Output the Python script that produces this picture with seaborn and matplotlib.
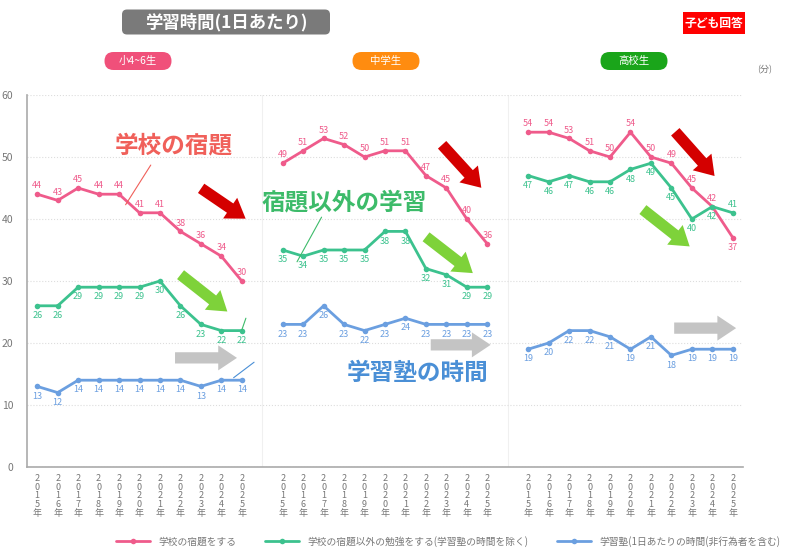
import numpy as np
import pandas as pd
import matplotlib
matplotlib.use('Agg')
import matplotlib.pyplot as plt
from matplotlib.patches import FancyBboxPatch
import seaborn as sns

# school levels and survey years
groups = ['小4~6生', '中学生', '高校生']
years = [2015, 2016, 2017, 2018, 2019, 2020, 2021, 2022, 2023, 2024, 2025]
series = ['学校の宿題をする',
          '学校の宿題以外の勉強をする(学習塾の時間を除く)',
          '学習塾(1日あたりの時間(非行為者を含む)']

# minutes per day, one list per group and series
homework_elem = [44, 43, 45, 44, 44, 41, 41, 38, 36, 34, 30]
homework_mid = [49, 51, 53, 52, 50, 51, 51, 47, 45, 40, 36]
homework_high = [54, 54, 53, 51, 50, 54, 50, 49, 45, 42, 37]
other_elem = [26, 26, 29, 29, 29, 29, 30, 26, 23, 22, 22]
other_mid = [35, 34, 35, 35, 35, 38, 38, 32, 31, 29, 29]
other_high = [47, 46, 47, 46, 46, 48, 49, 45, 40, 42, 41]
juku_elem = [13, 12, 14, 14, 14, 14, 14, 14, 13, 14, 14]
juku_mid = [23, 23, 26, 23, 22, 23, 24, 23, 23, 23, 23]
juku_high = [19, 20, 22, 22, 21, 19, 21, 18, 19, 19, 19]

values = {
    series[0]: [homework_elem, homework_mid, homework_high],
    series[1]: [other_elem, other_mid, other_high],
    series[2]: [juku_elem, juku_mid, juku_high],
}

PINK, GREEN, BLUE = '#ef5b8b', '#3cc28e', '#6b9fe0'
palette = dict(zip(series, [PINK, GREEN, BLUE]))

rows = []
for s in series:
    for g, grp in enumerate(groups):
        for i, y in enumerate(years):
            rows.append({'series': s, 'group': grp, 'year': y,
                         'x': g * (len(years) + 1) + i,
                         'value': values[s][g][i]})
df = pd.DataFrame(rows)

sns.set_theme(style='white')
plt.rcParams['font.family'] = ['Noto Sans CJK JP', 'DejaVu Sans']

fig = plt.figure(figsize=(8, 5.59), dpi=100)
ax = fig.add_axes([27 / 800, 1 - 467 / 559, 716 / 800, 372 / 559])

sns.lineplot(data=df, x='x', y='value', hue='series', hue_order=series,
             units='group', estimator=None, palette=palette, marker='o',
             markersize=4, markeredgewidth=0, linewidth=2, ax=ax)

handles, labels = ax.get_legend_handles_labels()
ax.get_legend().remove()
fig.legend(handles, labels, loc='center', bbox_to_anchor=(0.56, 0.032),
           ncol=3, frameon=False, fontsize=7, labelcolor='#777777',
           handlelength=3.5, columnspacing=3)

# value labels
for _, r in df.iterrows():
    last = r['year'] == years[-1] and r['group'] == groups[2]
    above = r['series'] == series[0]
    if last and r['series'] in series[:2]:
        above = not above
    ax.annotate(str(r['value']), (r['x'], r['value']),
                xytext=(0, 6 if above else -7), textcoords='offset points',
                ha='center', va='center', fontsize=6.5,
                color=palette[r['series']])

ax.set_xlim(-0.5, 34.5)
ax.set_ylim(0, 60)
ax.set_yticks(range(0, 61, 10))
ax.set_xticks(df['x'].unique())
ax.set_xticklabels(['\n'.join(str(y)) + '\n年' for _ in groups for y in years],
                   fontsize=6.5, linespacing=0.95, color='#777777')
ax.tick_params(axis='x', length=3, color='#aaaaaa', pad=2)
ax.tick_params(axis='y', length=0, labelsize=7.5, labelcolor='#777777', pad=10)
ax.set_xlabel('')
ax.set_ylabel('')
ax.grid(axis='y', color='#dddddd', linestyle=':', linewidth=0.8)
for sx in [11, 23]:
    ax.axvline(sx, color='#f0f0f0', linewidth=0.8, zorder=0)
for side in ['top', 'right']:
    ax.spines[side].set_visible(False)
for side in ['left', 'bottom']:
    ax.spines[side].set_color('#aaaaaa')
    ax.spines[side].set_linewidth(1.2)

# trend arrows
arrow_kw = 'simple,head_length=0.75,head_width=1.0,tail_width=0.45'
arrows = [
    ((7.9, 45.2), (10.3, 39.8), '#d40000'),
    ((19.7, 52.3), (21.8, 44.7), '#d40000'),
    ((31.1, 54.4), (33.2, 46.6), '#d40000'),
    ((6.9, 31.3), (9.4, 24.8), '#7ed23a'),
    ((18.9, 37.4), (21.4, 31.0), '#7ed23a'),
    ((29.5, 41.8), (32.0, 35.3), '#7ed23a'),
    ((6.6, 17.6), (9.9, 17.6), '#c4c4c4'),
    ((19.1, 19.7), (22.3, 19.7), '#c4c4c4'),
    ((31.0, 22.4), (34.3, 22.4), '#c4c4c4'),
]
for start, end, c in arrows:
    ax.annotate('', xy=end, xytext=start,
                arrowprops=dict(arrowstyle=arrow_kw, mutation_scale=18,
                                color=c, lw=0))

# callout labels
ax.text(6.7, 51.8, '学校の宿題', fontsize=17, color='#f0605a',
        ha='center', va='center', fontweight='bold')
ax.plot([5.55, 4.32], [48.7, 42.3], color='#f0605a', lw=0.8)
ax.text(15.0, 42.6, '宿題以外の学習', fontsize=17, color='#3dbb6a',
        ha='center', va='center', fontweight='bold')
ax.plot([13.9, 12.7], [40.3, 33.1], color='#3dbb6a', lw=0.8)
ax.plot([10.0, 10.2], [22.1, 24.0], color='#3dbb6a', lw=0.8)
ax.text(18.6, 15.2, '学習塾の時間', fontsize=17, color='#4a8fd6',
        ha='center', va='center', fontweight='bold')
ax.plot([9.6, 10.6], [14.4, 16.9], color='#4a8fd6', lw=0.8)


# header boxes, placed in inches from the top-left corner
def header_box(cx, cy, w, h, text, fc, size, rounding, weight='normal'):
    x0, y0 = (cx - w / 2) / 100, (559 - cy - h / 2) / 100
    fig.patches.append(FancyBboxPatch(
        (x0, y0), w / 100, h / 100,
        boxstyle=f'round,pad=0,rounding_size={rounding}',
        transform=fig.dpi_scale_trans, fc=fc, ec='none', figure=fig))
    fig.text(cx / 800, 1 - cy / 559, text, fontsize=size, fontweight=weight,
             color='white', ha='center', va='center')


header_box(226, 22, 208, 25, '学習時間(1日あたり)', '#7a7a7a', 12.5, 0.05, 'bold')
header_box(714, 23, 62, 22, '子ども回答', '#ff0000', 8.5, 0.0, 'bold')
pill_colors = ['#f0507a', '#ff8c10', '#1aa51a']
pill_x = [138, 386, 634]
for px, c, name in zip(pill_x, pill_colors, groups):
    header_box(px, 61, 67, 18, name, c, 7.5, 0.09)
fig.text(765 / 800, 1 - 70 / 559, '(分)', fontsize=6.5, color='#777777',
         ha='center', va='center')

fig.savefig('out.png', dpi=100)
